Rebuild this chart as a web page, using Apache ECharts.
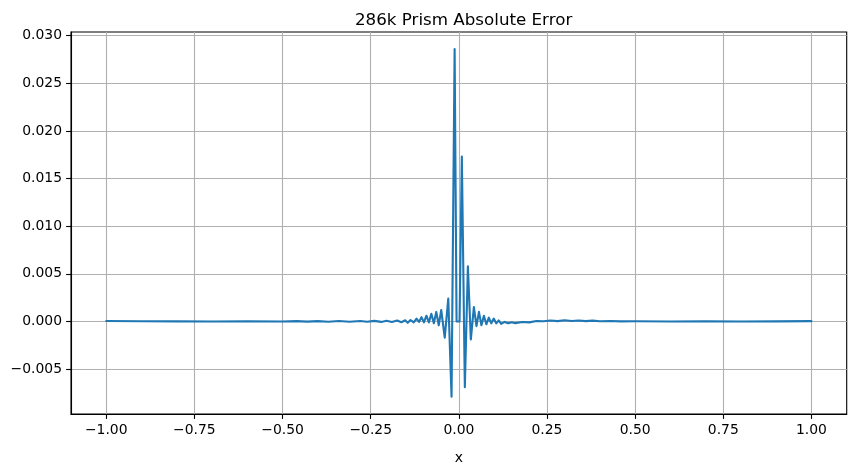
<!DOCTYPE html>
<html>
<head>
<meta charset="utf-8">
<script src="https://cdn.jsdelivr.net/npm/echarts@6/dist/echarts.min.js"></script>
<style>
html,body{margin:0;padding:0;background:#fff;}
#chart{width:855px;height:470px;}
</style>
</head>
<body>
<div id="chart"></div>
<script>
// x positions (data units) and absolute error values
var xValues = [
  -1.0, -0.9, -0.8, -0.7, -0.6, -0.5, -0.46, -0.43, -0.40, -0.37, -0.34, -0.31,
  -0.28, -0.26, -0.24, -0.22, -0.205, -0.19, -0.175, -0.163, -0.152, -0.145,
  -0.137, -0.128, -0.12, -0.113, -0.106, -0.099, -0.092, -0.085, -0.078, -0.071,
  -0.064, -0.057, -0.050, -0.040, -0.030, -0.0207, -0.012, -0.0065, -0.003, 0.002,
  0.005, 0.0085, 0.017, 0.0256, 0.034, 0.0426, 0.050, 0.057, 0.064, 0.071,
  0.078, 0.085, 0.092, 0.099, 0.106, 0.113, 0.12, 0.13, 0.14, 0.15, 0.16,
  0.18, 0.20, 0.22, 0.24, 0.26, 0.28, 0.30, 0.32, 0.34, 0.36, 0.38, 0.40,
  0.43, 0.46, 0.50, 0.6, 0.7, 0.8, 0.9, 1.0
];
var errValues = [
  0.00004, 0.00002, 0.00001, 0.0, 0.00001, 0.0, 0.00003, -0.00002, 0.00003, -0.00003, 0.00004, -0.00003,
  0.00005, -0.00004, 0.00006, -0.00005, 0.00007, -0.00006, 0.0001, -0.00008, 0.00012, -0.00015,
  0.00015, -0.0001, 0.0003, -0.00005, 0.00045, -0.0001, 0.0006, -0.0001, 0.0008, -0.0002,
  0.001, -0.0004, 0.0012, -0.0017, 0.0024, -0.0079, 0.0286, 0.0, 0.0, 0.0,
  0.0, 0.0173, -0.0069, 0.0058, -0.0019, 0.0015, -0.0005, 0.0010, -0.0004, 0.0006,
  -0.0003, 0.0004, -0.0002, 0.0003, -0.0002, 0.0001, -0.00025, -0.00005, -0.0002, -0.00008, -0.00018,
  -0.00006, -0.0001, 0.00005, 0.00002, 0.0001, 0.00003, 0.00012, 0.00004, 0.0001, 0.00003, 0.00008, 0.00002,
  0.00004, 0.00001, 0.00002, 0.0, 0.00001, 0.0, 0.00001, 0.00003
];
var xTicks = [-1.0, -0.75, -0.5, -0.25, 0.0, 0.25, 0.5, 0.75, 1.0];
var yTicks = [-0.005, 0.0, 0.005, 0.010, 0.015, 0.020, 0.025, 0.030];
var chartTitle = '286k Prism Absolute Error';
var xName = 'x';

var seriesData = xValues.map(function (x, i) { return [x, errValues[i]]; });

function fmt(v, d) {
  var s = Math.abs(v).toFixed(d);
  return (v < -1e-12 ? '\u2212' : '') + s;
}

var font = 'DejaVu Sans';
var chart = echarts.init(document.getElementById('chart'), null, {renderer: 'canvas'});
chart.setOption({
  animation: false,
  backgroundColor: '#ffffff',
  title: {
    text: chartTitle,
    left: 350, top: 7,
    textStyle: {fontFamily: font, fontSize: 16.7, fontWeight: 'normal', color: '#000'}
  },
  grid: {
    left: 71, right: 8.3, top: 32, bottom: 53,
    show: true, borderColor: '#000', borderWidth: 1.1, backgroundColor: 'transparent'
  },
  xAxis: {
    type: 'value', min: -1.1, max: 1.1,
    name: xName, nameLocation: 'middle', nameGap: 37,
    nameTextStyle: {fontFamily: font, fontSize: 13.9, color: '#000'},
    axisLine: {show: true, onZero: false, lineStyle: {color: '#000', width: 1.1}},
    axisTick: {show: true, inside: false, length: 4.9, customValues: xTicks, lineStyle: {color: '#000', width: 1.1}},
    axisLabel: {show: true, margin: 9, customValues: xTicks, fontFamily: font, fontSize: 13.9, color: '#000',
      formatter: function (v) { return fmt(v, 2); }},
    splitLine: {show: true, customValues: xTicks, lineStyle: {color: '#b0b0b0', width: 1.1}}
  },
  yAxis: {
    type: 'value', min: -0.00972, max: 0.03039,
    axisLine: {show: true, onZero: false, lineStyle: {color: '#000', width: 1.1}},
    axisTick: {show: true, inside: false, length: 4.9, customValues: yTicks, lineStyle: {color: '#000', width: 1.1}},
    axisLabel: {show: true, margin: 9, customValues: yTicks, fontFamily: font, fontSize: 13.9, color: '#000',
      formatter: function (v) { return fmt(v, 3); }},
    splitLine: {show: true, customValues: yTicks, lineStyle: {color: '#b0b0b0', width: 1.1}}
  },
  series: [{
    type: 'line',
    data: seriesData,
    showSymbol: false,
    lineStyle: {color: '#1f77b4', width: 2.1, join: 'round', cap: 'round'},
    itemStyle: {color: '#1f77b4'},
    clip: true,
    z: 3
  }]
});
</script>
</body>
</html>
